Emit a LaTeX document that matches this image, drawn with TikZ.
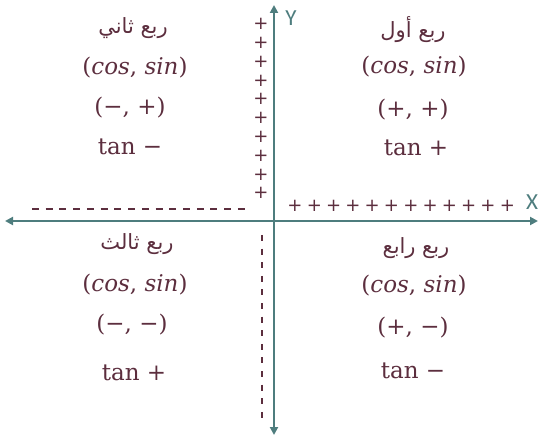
\documentclass[tikz,border=0pt]{standalone}
\usepackage{fontspec}
\usetikzlibrary{arrows.meta}
\TeXXeTstate=1
\newfontfamily\arabicfont[Script=Arabic]{DejaVu Sans}
\newfontfamily\labfont{DejaVu Sans}
\newfontfamily\axfont{Carlito}
\newfontfamily\mfont{DejaVu Serif}
\definecolor{txt}{HTML}{5C2E3E}
\definecolor{ax}{HTML}{4E7D7E}
\begin{document}
\begin{tikzpicture}[x=1pt,y=-1pt,
  lbl/.style={text=txt,font=\mfont\fontsize{23}{27}\selectfont,inner sep=0pt},
  arlbl/.style={text=txt,font=\arabicfont\fontsize{21}{24}\selectfont,inner sep=0pt},
  plussign/.style={text=txt,font=\labfont\fontsize{18}{18}\selectfont,inner sep=0pt},
  axlbl/.style={text=ax,font=\axfont\fontsize{23}{23}\selectfont,inner sep=0pt},
  axisline/.style={ax,line width=2pt,{Triangle[width=8pt,length=8pt]}-{Triangle[width=8pt,length=8pt]}},
  hdash/.style={txt,line width=2pt,dash pattern=on 7pt off 6.73pt},
  vdash/.style={txt,line width=2pt,dash pattern=on 6pt off 7.6pt}]
\useasboundingbox (0,0) rectangle (542,436);
\coordinate (xl) at (5,221); \coordinate (xr) at (538,221);
\coordinate (yt) at (274,5); \coordinate (yb) at (274,435);
\draw[axisline] (xl) -- (xr);
\draw[axisline] (yb) -- (yt);
\node[axlbl] (X) at (532,202) {X};
\node[axlbl] (Y) at (291,18) {Y};
% dashed lines
\coordinate (h1) at (32,209); \coordinate (h2) at (245,209);
\draw[hdash] (h1) -- (h2);
\coordinate (v1) at (262,235); \coordinate (v2) at (262,418);
\draw[vdash] (v1) -- (v2);
% plus signs
\foreach \i in {0,...,11} \node[plussign] (ph\i) at ({295+19.3*\i},206) {+};
\foreach \i in {0,...,9} \node[plussign] (pv\i) at (261,{24+18.8*\i}) {+};
% quadrant II
\node[arlbl] (q2a) at (133,28) {\arabicfont\beginR ربع ثاني\endR};
\node[lbl] (q2b) at (135,68) {(\textit{cos}, \textit{sin})};
\node[lbl] (q2c) at (130,108) {(−, +)};
\node[lbl] (q2d) at (130,147) {tan −};
% quadrant I
\node[arlbl] (q1a) at (413,30) {\arabicfont\beginR ربع أول\endR};
\node[lbl] (q1b) at (414,67) {(\textit{cos}, \textit{sin})};
\node[lbl] (q1c) at (413,110) {(+, +)};
\node[lbl] (q1d) at (416,148) {tan +};
% quadrant III
\node[arlbl] (q3a) at (137,244) {\arabicfont\beginR ربع ثالث\endR};
\node[lbl] (q3b) at (135,285) {(\textit{cos}, \textit{sin})};
\node[lbl] (q3c) at (132,325) {(−, −)};
\node[lbl] (q3d) at (134,373) {tan +};
% quadrant IV
\node[arlbl] (q4a) at (416,248) {\arabicfont\beginR ربع رابع\endR};
\node[lbl] (q4b) at (414,286) {(\textit{cos}, \textit{sin})};
\node[lbl] (q4c) at (413,328) {(+, −)};
\node[lbl] (q4d) at (413,371) {tan −};
\end{tikzpicture}
\end{document}
